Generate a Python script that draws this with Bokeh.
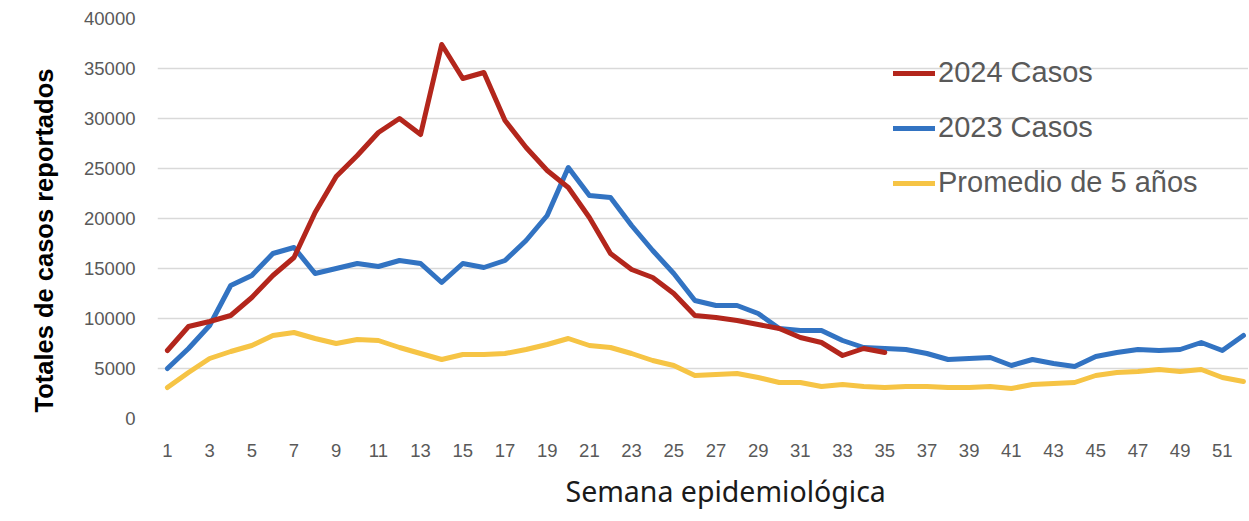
from bokeh.plotting import figure
from bokeh.models import FixedTicker, Legend, LegendItem, ColumnDataSource, NumeralTickFormatter, Title
from bokeh.embed import file_html
from bokeh.resources import INLINE

# ---- data ----
weeks_2024 = list(range(1, 36))
casos_2024 = [6800, 9200, 9700, 10300, 12100, 14300, 16100, 20600, 24200, 26300,
              28600, 30000, 28400, 37400, 34000, 34600, 29800, 27100, 24800, 23100,
              20100, 16500, 14900, 14100, 12500, 10300, 10100, 9800, 9400, 9000,
              8100, 7600, 6300, 7000, 6600]

weeks = list(range(1, 53))
casos_2023 = [5000, 7000, 9300, 13300, 14300, 16500, 17100, 14500, 15000, 15500,
              15200, 15800, 15500, 13600, 15500, 15100, 15800, 17800, 20300, 25100,
              22300, 22100, 19300, 16800, 14500, 11800, 11300, 11300, 10500, 9000,
              8800, 8800, 7800, 7100, 7000, 6900, 6500, 5900, 6000, 6100,
              5300, 5900, 5500, 5200, 6200, 6600, 6900, 6800, 6900, 7600,
              6800, 8300]
promedio_5 = [3100, 4600, 6000, 6700, 7300, 8300, 8600, 8000, 7500, 7900,
              7800, 7100, 6500, 5900, 6400, 6400, 6500, 6900, 7400, 8000,
              7300, 7100, 6500, 5800, 5300, 4300, 4400, 4500, 4100, 3600,
              3600, 3200, 3400, 3200, 3100, 3200, 3200, 3100, 3100, 3200,
              3000, 3400, 3500, 3600, 4300, 4600, 4700, 4900, 4700, 4900,
              4100, 3700]

x_ticks = list(range(1, 52, 2))
y_ticks = list(range(0, 40001, 5000))
labels = ["2024 Casos", "2023 Casos", "Promedio de 5 años"]
x_title = "Semana epidemiológica"
y_title = "Totales de casos reportados"
colors = ["#B3261C", "#3273C2", "#F6C445"]

FONT = "Liberation Sans"

p = figure(width=1248, height=521, x_range=(0.53, 52.24), y_range=(0, 40000),
           output_backend="svg", toolbar_location=None,
           min_border_left=157, min_border_right=0, min_border_top=18, min_border_bottom=103)
p.outline_line_color = None
p.xgrid.grid_line_color = None
p.ygrid.grid_line_color = "#D9D9D9"
p.ygrid.grid_line_width = 1.5

s24 = ColumnDataSource(dict(x=weeks_2024, y=casos_2024))
s23 = ColumnDataSource(dict(x=weeks, y=casos_2023))
s5 = ColumnDataSource(dict(x=weeks, y=promedio_5))

r5 = p.line("x", "y", source=s5, line_color=colors[2], line_width=5, line_join="round", line_cap="round")
r23 = p.line("x", "y", source=s23, line_color=colors[1], line_width=5, line_join="round", line_cap="round")
r24 = p.line("x", "y", source=s24, line_color=colors[0], line_width=5, line_join="round", line_cap="round")

# axes
for ax in (p.xaxis[0], p.yaxis[0]):
    ax.axis_line_color = None
    ax.major_tick_line_color = None
    ax.minor_tick_line_color = None
    ax.major_tick_out = 0
    ax.major_tick_in = 0
    ax.major_label_text_font = FONT
    ax.major_label_text_font_size = "18.5px"
    ax.major_label_text_color = "#595959"

p.xaxis.ticker = FixedTicker(ticks=x_ticks)
p.yaxis.ticker = FixedTicker(ticks=y_ticks)
p.yaxis.formatter = NumeralTickFormatter(format="0")
p.yaxis.major_label_standoff = 22
p.xaxis.major_label_standoff = 25

# axis titles as side titles (offset along the axis like the original)
xt = Title(text=x_title, align="left", offset=408, standoff=21,
           text_font="Noto Sans", text_font_style="normal", text_font_size="28.5px",
           text_color="#1a1a1a")
p.add_layout(xt, "below")

yt = Title(text=y_title, align="left", offset=6, standoff=48,
           text_font=FONT, text_font_style="bold", text_font_size="25.5px",
           text_color="#000000")
p.add_layout(yt, "left")

legend = Legend(items=[LegendItem(label=labels[0], renderers=[r24]),
                       LegendItem(label=labels[1], renderers=[r23]),
                       LegendItem(label=labels[2], renderers=[r5])],
                location=(736, 219))
legend.border_line_color = None
legend.background_fill_alpha = 0
legend.padding = 0
legend.margin = 0
legend.glyph_width = 42
legend.glyph_height = 30
legend.label_height = 30
legend.label_standoff = 3
legend.spacing = 22
legend.label_text_font = FONT
legend.label_text_font_size = "29px"
legend.label_text_color = "#595959"
p.add_layout(legend)

open("out.html", "w").write(file_html(p, INLINE))
